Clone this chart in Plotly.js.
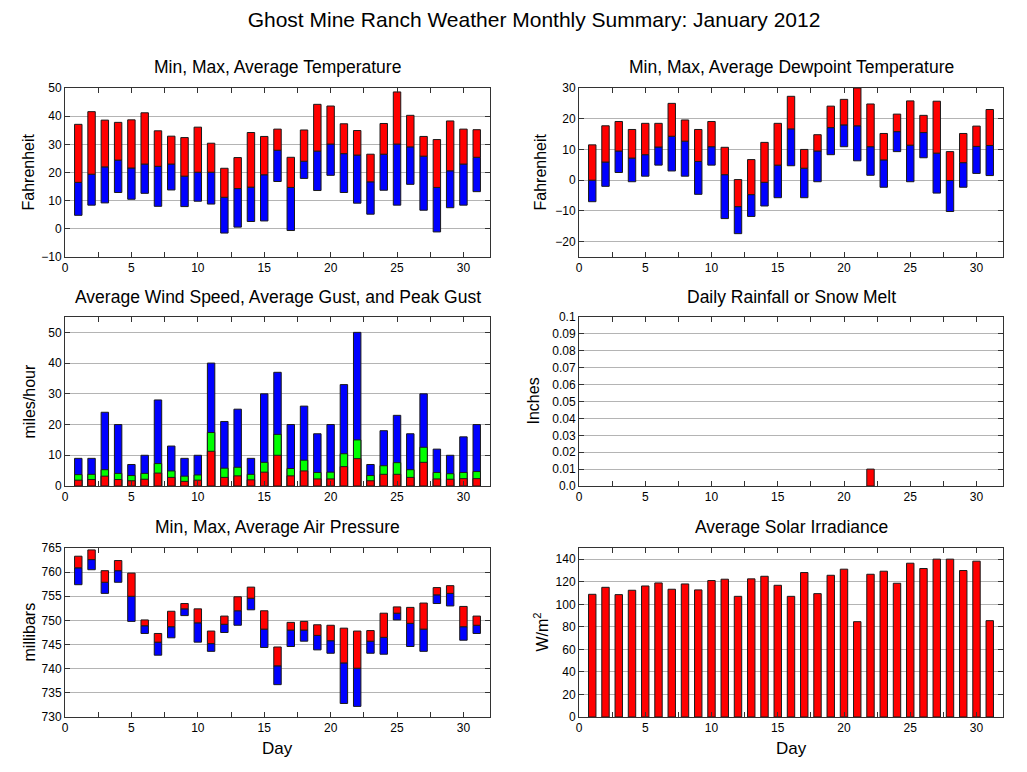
<!DOCTYPE html>
<html>
<head>
<meta charset="utf-8">
<script src="https://cdn.plot.ly/plotly-3.0.1.min.js"></script>
<style>html,body{margin:0;padding:0;background:#fff;}#chart{width:1027px;height:772px;}</style>
</head>
<body>
<div id="chart"></div>
<script>
const days = [1,2,3,4,5,6,7,8,9,10,11,12,13,14,15,16,17,18,19,20,21,22,23,24,25,26,27,28,29,30,31];

const tempMax = [37.1,41.6,38.6,37.8,38.7,41.2,34.8,32.9,32.4,36.1,30.4,21.5,25.3,34.2,32.8,35.4,25.4,35.1,44.2,43.6,37.3,34.9,26.5,37.4,48.6,40.3,32.8,31.7,38.3,35.4,35.2];
const tempAvg = [16.5,19.4,22.0,24.4,21.6,23.0,22.2,23.0,18.7,20.1,20.1,11.2,14.3,14.8,19.2,27.9,14.7,24.0,27.6,30.1,26.7,26.2,16.7,26.5,30.1,29.1,25.8,14.7,20.6,23.0,25.4];
const tempMin = [4.8,8.4,9.2,12.9,10.5,12.6,8.0,13.8,7.9,9.8,8.8,-1.5,0.6,2.6,2.8,16.8,-0.6,17.9,13.6,19.0,12.9,9.1,5.2,13.7,8.4,15.8,6.6,-1.1,7.5,8.4,13.2];

const dewMax = [11.5,17.7,19.1,16.5,18.5,18.5,25.0,19.6,16.5,19.1,10.7,0.2,6.7,12.3,18.5,27.3,10.0,14.8,24.1,26.3,30.0,24.8,15.2,21.5,25.8,21.1,25.7,9.3,15.2,17.6,23.0];
const dewAvg = [0.0,5.9,9.5,7.2,8.3,10.8,14.3,12.7,6.1,10.9,1.8,-8.6,-4.7,-0.7,4.9,16.7,3.9,9.5,17.1,18.0,17.7,10.9,6.6,15.8,11.4,15.5,8.8,-0.1,5.7,11.0,11.3];
const dewMin = [-7.0,-2.0,2.5,-0.5,1.3,4.9,3.0,1.3,-4.6,4.9,-12.5,-17.4,-11.8,-8.4,-5.7,4.7,-5.7,-0.5,8.3,10.9,6.3,1.6,-2.3,9.3,-0.5,7.3,-4.2,-10.2,-2.3,2.2,1.5];

const windAvg = [1.9,2.1,3.2,2.1,1.7,2.2,4.2,2.8,1.5,1.9,11.3,2.8,3.3,2.0,4.5,10.0,3.3,4.9,2.3,2.3,6.3,8.9,1.7,3.8,3.8,2.8,7.7,2.3,2.2,2.4,2.4];
const gustAvg = [3.7,3.8,5.3,4.1,3.4,4.1,7.3,4.9,3.2,3.6,17.4,5.8,6.1,3.8,7.7,16.8,5.7,8.4,4.4,4.5,10.5,15.0,3.4,6.6,7.6,5.3,12.6,4.4,4.0,4.4,4.7];
const gustPeak = [9,9,24,20,7,10,28,13,9,10,40,21,25,9,30,37,20,26,17,20,33,50,7,18,23,17,30,12,10,16,20];

const rain = [0,0,0,0,0,0,0,0,0,0,0,0,0,0,0,0,0,0,0,0,0,0.01,0,0,0,0,0,0,0,0,0];
const rainTickVals = [0,0.01,0.02,0.03,0.04,0.05,0.06,0.07,0.08,0.09,0.1];
const rainTickText = ['0.0','0.01','0.02','0.03','0.04','0.05','0.06','0.07','0.08','0.09','0.1'];

const pressMax = [763.3,764.6,760.3,762.4,759.8,750.1,747.3,751.9,753.5,752.4,747.8,750.9,754.9,756.9,752.0,744.5,749.6,749.8,749.1,749.0,748.4,747.8,747.9,751.5,752.8,752.7,753.6,756.8,757.2,752.9,750.9];
const pressAvg = [760.9,762.6,757.9,760.3,755.0,748.9,745.5,748.7,752.4,749.5,745.2,749.2,752.0,754.6,748.2,740.6,748.0,748.0,746.9,745.8,741.2,740.1,745.7,746.5,751.5,749.4,748.2,755.3,755.6,748.7,749.0];
const pressMin = [757.4,760.5,755.6,757.9,749.8,747.3,742.8,746.4,751.0,745.5,743.6,747.5,749.0,752.2,744.4,736.7,744.6,745.7,743.9,743.2,732.8,732.2,743.2,743.0,750.1,744.6,743.6,753.5,753.0,745.9,747.3];

const solar = [108.9,115.1,108.6,112.5,116.3,119.0,113.4,118.1,112.8,121.1,122.3,107.1,122.6,124.9,116.9,107.1,128.2,109.5,125.8,131.2,84.6,126.7,129.4,118.7,136.5,131.8,140.1,140.1,130.0,138.3,85.5];

const RED = '#ff0000', BLUE = '#0000ff', GREEN = '#00ff00';
const OUTLINE = {color: '#1a1a1a', width: 1};
const BW = 0.56;

function diff(a, b) { return a.map((v, i) => v - b[i]); }

function floatPair(minArr, avgArr, maxArr, xa, ya) {
  return [
    {type: 'bar', x: days, y: diff(avgArr, minArr), base: minArr, width: BW,
     marker: {color: BLUE, line: OUTLINE}, xaxis: xa, yaxis: ya, hoverinfo: 'skip'},
    {type: 'bar', x: days, y: diff(maxArr, avgArr), base: avgArr, width: BW,
     marker: {color: RED, line: OUTLINE}, xaxis: xa, yaxis: ya, hoverinfo: 'skip'}
  ];
}

const traces = [].concat(
  floatPair(tempMin, tempAvg, tempMax, 'x', 'y'),
  floatPair(dewMin, dewAvg, dewMax, 'x2', 'y2'),
  [
    {type: 'bar', x: days, y: gustPeak, width: BW, marker: {color: BLUE, line: OUTLINE}, xaxis: 'x3', yaxis: 'y3'},
    {type: 'bar', x: days, y: gustAvg, width: BW, marker: {color: GREEN, line: OUTLINE}, xaxis: 'x3', yaxis: 'y3'},
    {type: 'bar', x: days, y: windAvg, width: BW, marker: {color: RED, line: OUTLINE}, xaxis: 'x3', yaxis: 'y3'},
    {type: 'bar', x: days, y: rain, width: BW,
     marker: {color: RED, line: {color: '#1a1a1a', width: rain.map(v => v > 0 ? 1 : 0)}},
     xaxis: 'x4', yaxis: 'y4'}
  ],
  floatPair(pressMin, pressAvg, pressMax, 'x5', 'y5'),
  [
    {type: 'bar', x: days, y: solar, width: BW, marker: {color: RED, line: OUTLINE}, xaxis: 'x6', yaxis: 'y6'}
  ]
);

const W = 1027, H = 772;
const colX = [[65, 490], [579, 1003]];
const rowY = [[88, 257], [317, 486], [548, 717]];
function xd(c) { return [colX[c][0] / W, colX[c][1] / W]; }
function yd(r) { return [1 - rowY[r][1] / H, 1 - rowY[r][0] / H]; }

const FONT = 'Liberation Sans, Arial, Helvetica, sans-serif';
const FRAME = '#333333';

function xAxis(c, r, anchor) {
  return {
    domain: xd(c), anchor: anchor, range: [0, 32], tick0: 0, dtick: 5,
    ticks: 'inside', ticklen: 5, tickcolor: FRAME, tickwidth: 1,
    minor: {dtick: 2.5, ticks: 'inside', ticklen: 5, tickcolor: FRAME, showgrid: false},
    showline: true, linecolor: FRAME, linewidth: 1, mirror: 'allticks',
    showgrid: false, zeroline: false, fixedrange: true,
    tickfont: {family: FONT, size: 12, color: '#000'}
  };
}
function yAxis(r, c, anchor, range, dtick, extra) {
  return Object.assign({
    domain: yd(r), anchor: anchor, range: range, dtick: dtick,
    ticks: 'inside', ticklen: 5, tickcolor: FRAME, tickwidth: 1,
    showline: true, linecolor: FRAME, linewidth: 1, mirror: 'allticks',
    showgrid: true, gridcolor: '#b4b4b4', gridwidth: 1, zeroline: false, fixedrange: true,
    tickfont: {family: FONT, size: 12, color: '#000'}
  }, extra || {});
}

function cx(c) { return (colX[c][0] + colX[c][1]) / 2 / W; }
function cy(r) { return 1 - (rowY[r][0] + rowY[r][1]) / 2 / H; }

const subTitles = [
  ['Min, Max, Average Temperature', 0, 67],
  ['Min, Max, Average Dewpoint Temperature', 1, 67],
  ['Average Wind Speed, Average Gust, and Peak Gust', 0, 297],
  ['Daily Rainfall or Snow Melt', 1, 297],
  ['Min, Max, Average Air Pressure', 0, 527],
  ['Average Solar Irradiance', 1, 527]
];
const yTitles = [
  ['Fahrenheit', 28, 0],
  ['Fahrenheit', 540, 0],
  ['miles/hour', 29, 1],
  ['Inches', 533, 1],
  ['millibars', 29, 2],
  ['W/m<sup>2</sup>', 541, 2]
];

const annotations = [];
subTitles.forEach(t => annotations.push({
  text: t[0], xref: 'paper', yref: 'paper', x: cx(t[1]), y: 1 - t[2] / H,
  xanchor: 'center', yanchor: 'middle', showarrow: false,
  font: {family: FONT, size: 17.5, color: '#000'}
}));
yTitles.forEach(t => annotations.push({
  text: t[0], xref: 'paper', yref: 'paper', x: t[1] / W, y: cy(t[2]),
  xanchor: 'center', yanchor: 'middle', showarrow: false, textangle: -90,
  font: {family: FONT, size: 16, color: '#000'}
}));
[0, 1].forEach(c => annotations.push({
  text: 'Day', xref: 'paper', yref: 'paper', x: cx(c), y: 1 - 748 / H,
  xanchor: 'center', yanchor: 'middle', showarrow: false,
  font: {family: FONT, size: 17, color: '#000'}
}));

const layout = {
  width: W, height: H,
  margin: {l: 0, r: 0, t: 0, b: 0},
  paper_bgcolor: '#ffffff', plot_bgcolor: '#ffffff',
  showlegend: false, barmode: 'overlay',
  font: {family: FONT, color: '#000'},
  title: {text: 'Ghost Mine Ranch Weather Monthly Summary: January 2012',
          x: 534 / W, xanchor: 'center', y: 1 - 20 / H, yanchor: 'middle',
          xref: 'paper', yref: 'container',
          font: {family: FONT, size: 21, color: '#000'}},
  xaxis: xAxis(0, 0, 'y'),
  yaxis: yAxis(0, 0, 'x', [-10, 50], 10),
  xaxis2: xAxis(1, 0, 'y2'),
  yaxis2: yAxis(0, 1, 'x2', [-25, 30], 10),
  xaxis3: xAxis(0, 1, 'y3'),
  yaxis3: yAxis(1, 0, 'x3', [0, 55], 10),
  xaxis4: xAxis(1, 1, 'y4'),
  yaxis4: yAxis(1, 1, 'x4', [0, 0.1], 0.01, {tickmode: 'array', tickvals: rainTickVals, ticktext: rainTickText}),
  xaxis5: xAxis(0, 2, 'y5'),
  yaxis5: yAxis(2, 0, 'x5', [730, 765], 5),
  xaxis6: xAxis(1, 2, 'y6'),
  yaxis6: yAxis(2, 1, 'x6', [0, 150], 20),
  annotations: annotations
};

Plotly.newPlot('chart', traces, layout, {displayModeBar: false, staticPlot: true});
</script>
</body>
</html>
